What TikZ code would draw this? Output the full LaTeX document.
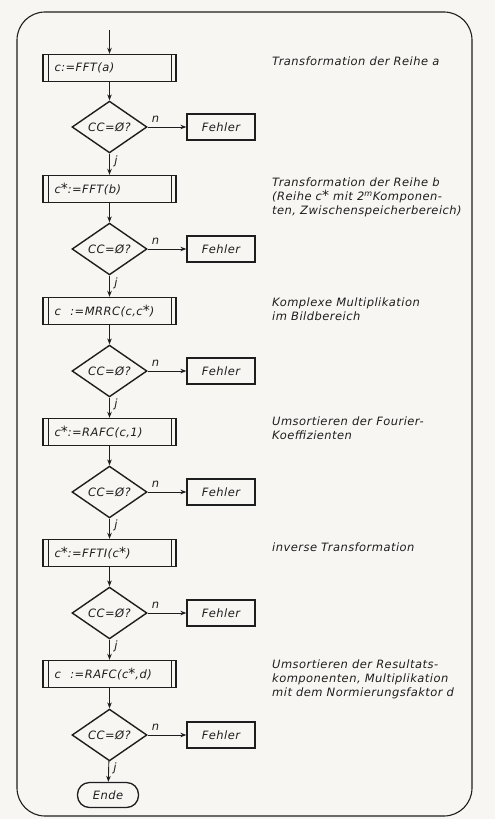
\documentclass[tikz,border=0pt]{standalone}
\usepackage{fontspec}
\setmainfont[LetterSpace=4,ItalicFont={DejaVu Sans Oblique}]{DejaVu Sans}
\usetikzlibrary{shapes.geometric,arrows.meta}
\definecolor{paper}{RGB}{247,246,243}
\definecolor{ink}{RGB}{30,30,30}
\newcommand{\cst}{c{\fontsize{14}{14}\selectfont*}}

\begin{document}
\begin{tikzpicture}[x=1pt,y=-1pt,
  every node/.style={font=\fontsize{11.5}{13.8}\selectfont\itshape,text=ink},
  prog/.style={draw=ink,line width=1.4pt,minimum width=133pt,minimum height=27pt,
    text width=110pt,inner xsep=11.5pt,align=left,
    path picture={\draw[ink,line width=1pt]
      ([xshift=5pt]path picture bounding box.north west) -- ([xshift=5pt]path picture bounding box.south west)
      ([xshift=-5pt]path picture bounding box.north east) -- ([xshift=-5pt]path picture bounding box.south east);}},
  test/.style={diamond,draw=ink,line width=1.4pt,minimum width=75pt,minimum height=50pt,inner sep=0pt},
  err/.style={draw=ink,line width=1.3pt,minimum width=68pt,minimum height=26pt},
  note/.style={anchor=north west,align=left,inner sep=0pt},
  flow/.style={draw=ink,-{Stealth[length=6pt,width=4.5pt]},line width=0.9pt}]
\path[use as bounding box,fill=paper] (0,0) rectangle (495,819);
\draw[ink,line width=1.1pt,rounded corners=28pt] (17,12) rectangle (472,816);

\coordinate (start) at (109.5,30);
\node[prog] (fft) at (109.5,68) {c:=FFT(a)};
\node[test] (cc1) at (109.5,127) {CC=Ø?};
\node[err] (err1) at (221,127) {Fehler};
\node[prog] (fftb) at (109.5,189) {\cst:=FFT(b)};
\node[test] (cc2) at (109.5,249) {CC=Ø?};
\node[err] (err2) at (221,249) {Fehler};
\node[prog] (mrrc) at (109.5,311) {c\phantom{*}\ :=MRRC(c,\cst)};
\node[test] (cc3) at (109.5,371) {CC=Ø?};
\node[err] (err3) at (221,371) {Fehler};
\node[prog] (rafc) at (109.5,432) {\cst:=RAFC(c,1)};
\node[test] (cc4) at (109.5,492) {CC=Ø?};
\node[err] (err4) at (221,492) {Fehler};
\node[prog] (ffti) at (109.5,553) {\cst:=FFTI(\cst)};
\node[test] (cc5) at (109.5,613) {CC=Ø?};
\node[err] (err5) at (221,613) {Fehler};
\node[prog] (rafcd) at (109.5,674) {c\phantom{*}\ :=RAFC(\cst,d)};
\node[test] (cc6) at (109.5,735) {CC=Ø?};
\node[err] (err6) at (221,735) {Fehler};
\node[draw=ink,line width=1.3pt,rounded corners=12pt,minimum width=61pt,minimum height=25pt] (ende) at (108,795) {Ende};

\node[note] (txt1) at (272,57) {Transformation der Reihe a};
\node[note] (txt2) at (272,178) {Transformation der Reihe b\\(Reihe \cst{} mit 2\textsuperscript{m}Komponen-\\ten, Zwischenspeicherbereich)};
\node[note] (txt3) at (272,298) {Komplexe Multiplikation\\im Bildbereich};
\node[note] (txt4) at (272,417) {Umsortieren der Fourier-\\Koeffizienten};
\node[note] (txt5) at (272,543) {inverse Transformation};
\node[note] (txt6) at (272,660) {Umsortieren der Resultats-\\komponenten, Multiplikation\\mit dem Normierungsfaktor d};

\draw[flow] (start) -- (fft);
\draw[flow] (fft) -- (cc1);
\draw[flow] (cc1) -- node[pos=0.2,above=1pt]{n} (err1);
\draw[flow] (cc1) -- node[pos=0.35,right=1pt]{j} (fftb);
\draw[flow] (fftb) -- (cc2);
\draw[flow] (cc2) -- node[pos=0.2,above=1pt]{n} (err2);
\draw[flow] (cc2) -- node[pos=0.35,right=1pt]{j} (mrrc);
\draw[flow] (mrrc) -- (cc3);
\draw[flow] (cc3) -- node[pos=0.2,above=1pt]{n} (err3);
\draw[flow] (cc3) -- node[pos=0.35,right=1pt]{j} (rafc);
\draw[flow] (rafc) -- (cc4);
\draw[flow] (cc4) -- node[pos=0.2,above=1pt]{n} (err4);
\draw[flow] (cc4) -- node[pos=0.35,right=1pt]{j} (ffti);
\draw[flow] (ffti) -- (cc5);
\draw[flow] (cc5) -- node[pos=0.2,above=1pt]{n} (err5);
\draw[flow] (cc5) -- node[pos=0.35,right=1pt]{j} (rafcd);
\draw[flow] (rafcd) -- (cc6);
\draw[flow] (cc6) -- node[pos=0.2,above=1pt]{n} (err6);
\draw[flow] (cc6) -- node[pos=0.35,right=1pt]{j} (ende);
\end{tikzpicture}
\end{document}
